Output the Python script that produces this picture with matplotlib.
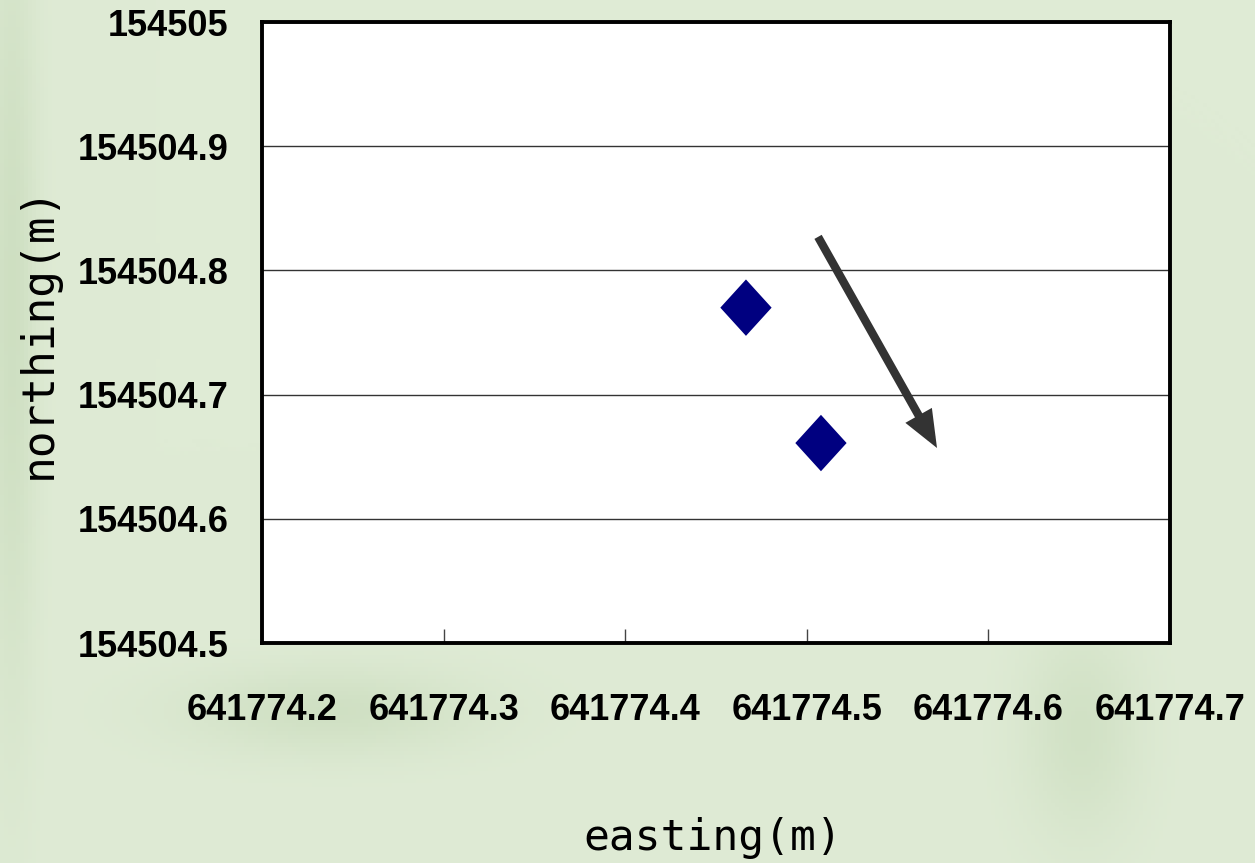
import numpy as np
import matplotlib
matplotlib.use("Agg")
import matplotlib.pyplot as plt
from matplotlib.path import Path

# ---- data ----
easting = [641774.4665, 641774.5078]
northing = [154504.770, 154504.661]
arrow_start = (641774.5062, 154504.827)
arrow_end = (641774.5717, 154504.657)
x_ticks = [641774.2, 641774.3, 641774.4, 641774.5, 641774.6, 641774.7]
y_ticks = [154504.5, 154504.6, 154504.7, 154504.8, 154504.9, 154505.0]
x_tick_labels = ["641774.2", "641774.3", "641774.4", "641774.5", "641774.6", "641774.7"]
y_tick_labels = ["154504.5", "154504.6", "154504.7", "154504.8", "154504.9", "154505"]

tick_family = "Liberation Sans"

W, H = 1255, 863
fig = plt.figure(figsize=(W / 100, H / 100), dpi=100)
bg = "#dfebd5"
fig.patch.set_facecolor(bg)

# subtle background texture
bgax = fig.add_axes([0, 0, 1, 1], zorder=-10)
yy, xx = np.mgrid[0:H:4, 0:W:4]
img = np.zeros_like(xx, dtype=float)
for cx, cy, sx, sy, a in [(330, 710, 150, 45, 0.045), (1080, 730, 60, 110, 0.04),
                          (10, 300, 25, 400, 0.05)]:
    img += a * np.exp(-(((xx - cx) / sx) ** 2 + ((yy - cy) / sy) ** 2))
base = np.array([0xdf, 0xeb, 0xd5]) / 255.0
dark = np.array([0xc4, 0xd8, 0xb6]) / 255.0
t = np.clip(img / 0.08, 0, 1)[..., None]
rgb = base * (1 - t) + dark * t
bgax.imshow(rgb, extent=[0, W, H, 0], aspect="auto")
bgax.axis("off")

ax = fig.add_axes([262 / W, 1 - 643 / H, (1170 - 262) / W, (643 - 22) / H])
ax.set_facecolor("white")
ax.set_xlim(641774.2, 641774.7)
ax.set_ylim(154504.5, 154505.0)

ax.set_yticks(y_ticks)
ax.set_yticklabels(y_tick_labels)
ax.set_xticks(x_ticks)
ax.set_xticklabels(x_tick_labels)

ax.yaxis.grid(True, color="#333333", linewidth=1.0)
ax.set_axisbelow(True)

for s in ax.spines.values():
    s.set_linewidth(2.8)
    s.set_color("black")

ax.tick_params(axis="x", direction="in", length=10, width=1, color="#444444", pad=36)
ax.tick_params(axis="y", length=0, pad=24)
for lab in ax.get_xticklabels() + ax.get_yticklabels():
    lab.set_fontfamily(tick_family)
    lab.set_fontweight("bold")
    lab.set_fontsize(26)

diamond = Path([(0, 1.1), (1, 0), (0, -1.1), (-1, 0), (0, 1.1)],
               [Path.MOVETO, Path.LINETO, Path.LINETO, Path.LINETO, Path.CLOSEPOLY])
ax.scatter(easting, northing, marker=diamond, s=1650, color="#000080", zorder=3,
           edgecolors="none")

ax.annotate("", xy=arrow_end, xytext=arrow_start,
            arrowprops=dict(arrowstyle="-|>,head_length=1.6,head_width=0.65",
                            color="#333333", lw=6, shrinkA=0, shrinkB=0,
                            joinstyle="miter", capstyle="butt"))

fig.text(713 / W, 1 - 838 / H, "easting(m)", ha="center", va="center",
         fontsize=31, family="DejaVu Sans Mono")
fig.text(38 / W, 1 - 332 / H, "northing(m)", ha="center", va="center",
         rotation=90, fontsize=32, family="DejaVu Sans Mono")

fig.savefig("out.png", dpi=100, facecolor=fig.get_facecolor())
